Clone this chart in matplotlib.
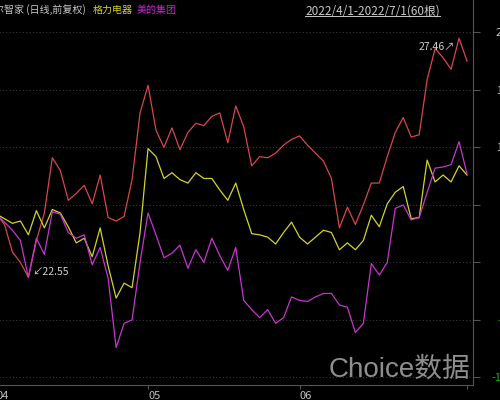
import matplotlib
matplotlib.use('Agg')
import matplotlib.pyplot as plt
from matplotlib.lines import Line2D

plt.rcParams['font.family'] = ['Noto Sans CJK SC', 'DejaVu Sans']

# 60 trading days, 2022/4/1 - 2022/7/1, change in % against the base
days = list(range(60))
month_pos = [0, 19, 38, 59]
month_labels = ['04', '05', '06', '']

haier = [4.2, 3.3, 0.9, 0.0, -1.3, 1.9, 4.3, 9.1, 8.0, 5.4,
         6.0, 6.7, 5.1, 7.6, 3.9, 3.6, 4.0, 7.2, 13.0, 15.4,
         11.5, 10.0, 11.7, 9.8, 11.3, 12.1, 11.9, 12.7, 13.0, 10.4,
         13.6, 11.8, 8.4, 9.2, 9.1, 9.5, 10.2, 10.7, 11.0, 10.2,
         9.5, 8.8, 7.3, 3.0, 4.8, 3.3, 5.0, 6.9, 6.9, 9.2,
         11.3, 12.6, 10.9, 11.1, 15.9, 18.6, 17.8, 16.8, 19.5, 17.5]
gree = [4.2, 3.8, 3.4, 3.6, 2.4, 4.5, 3.0, 4.6, 4.3, 3.1,
        1.7, 2.1, 0.5, 3.0, -0.3, -3.1, -1.8, -2.2, 2.6, 9.9,
        9.2, 7.3, 7.8, 7.2, 6.9, 7.8, 7.3, 7.3, 6.3, 5.4,
        6.9, 4.6, 2.5, 2.4, 2.2, 1.6, 2.6, 3.5, 2.2, 1.6,
        2.2, 2.8, 2.6, 1.1, 1.7, 1.1, 1.9, 4.1, 3.1, 5.1,
        6.1, 6.6, 3.8, 3.9, 8.9, 7.0, 7.6, 7.0, 8.4, 7.6]
midea = [4.2, 3.5, 2.8, 1.9, -1.3, 2.1, 0.7, 4.4, 4.2, 2.6,
         2.1, 2.4, -0.2, 1.3, -1.4, -7.4, -5.3, -5.0, 0.0, 4.3,
         2.4, 0.4, 0.8, 1.5, -0.5, 1.1, 0.0, 2.1, 0.6, -0.7,
         1.3, -3.3, -4.1, -4.8, -4.1, -5.3, -4.8, -3.0, -3.3, -3.4,
         -3.0, -2.7, -2.7, -3.7, -3.9, -6.1, -5.3, -0.1, -1.1, 0.0,
         4.7, 5.0, 3.7, 3.9, 6.1, 8.2, 8.3, 8.5, 10.5, 7.7]
y_ticks = [-10, -5, 0, 5, 10, 15, 20]
low_price = '22.55'
high_price = '27.46'

fig = plt.figure(figsize=(5, 4), dpi=100, facecolor='black')
ax = fig.add_axes([-3.5 / 500, 15 / 400, 476.5 / 500, 385 / 400])
ax.set_facecolor('black')

ax.plot(days, haier, color='#d6474b', lw=0.9)
ax.plot(days, gree, color='#d4d22a', lw=0.9)
ax.plot(days, midea, color='#c536cf', lw=0.9)
ax.set_xlim(0, 59.75)
ax.set_ylim(-10.66, 22.82)

# min / max price marks of the main stock
i_lo = haier.index(min(haier))
i_hi = haier.index(max(haier))
ax.annotate('\u2199' + low_price, xy=(i_lo, haier[i_lo]), xytext=(4, 5),
            textcoords='offset pixels', ha='left', va='center',
            color='#d0d0d0', fontsize=7.5)
ax.annotate(high_price + '\u2197', xy=(i_hi, haier[i_hi]), xytext=(-4, -9),
            textcoords='offset pixels', ha='right', va='center',
            color='#d0d0d0', fontsize=7.5)

ax.grid(axis='y', color='#3a3a3a', linestyle=(0, (1, 2)), lw=0.8)
for s in ['top', 'left']:
    ax.spines[s].set_visible(False)
for s in ['right', 'bottom']:
    ax.spines[s].set_color('#555555')
    ax.spines[s].set_linewidth(0.8)

ax.set_xticks(month_pos)
ax.set_xticklabels(month_labels, ha='left')
ax.tick_params(axis='x', length=3, color='#555555', labelcolor='#c0c0c0',
               labelsize=8, pad=1)

ax.yaxis.tick_right()
ax.set_yticks(y_ticks)
ax.set_yticklabels(['%.2f%%' % v for v in y_ticks])
ax.tick_params(axis='y', length=5, color='#555555', labelsize=8, pad=38.5)
for v, lab in zip(y_ticks, ax.get_yticklabels()):
    lab.set_ha('right')
    lab.set_color('#19b019' if v < 0 else '#c8c8c8')

# header
ty = 1 - 10 / 400
fig.text(-16 / 500, ty, '海尔智家 (日线,前复权)', color='#c8c8c8', fontsize=7.2, va='center')
fig.text(93 / 500, ty, '格力电器', color='#d8d020', fontsize=7.2, va='center')
fig.text(137 / 500, ty, '美的集团', color='#d020d8', fontsize=7.2, va='center')
date_txt = fig.text(440 / 500, 1 - 11 / 400, '2022/4/1-2022/7/1(60根)', color='#c8c8c8',
                    fontsize=8.5, va='center', ha='right')

fig.text(470 / 500, 1 - 383 / 400, 'Choice数据', color='#8e8e8e', fontsize=20,
         ha='right', va='bottom', family=['Liberation Sans', 'Noto Sans CJK SC'])

fig.canvas.draw()
bb = date_txt.get_window_extent().transformed(fig.transFigure.inverted())
fig.add_artist(Line2D([bb.x0, bb.x1], [bb.y0 + 0.004, bb.y0 + 0.004],
                      transform=fig.transFigure, color='#c8c8c8', lw=0.7))

fig.savefig('out.png', dpi=100, facecolor='black')
